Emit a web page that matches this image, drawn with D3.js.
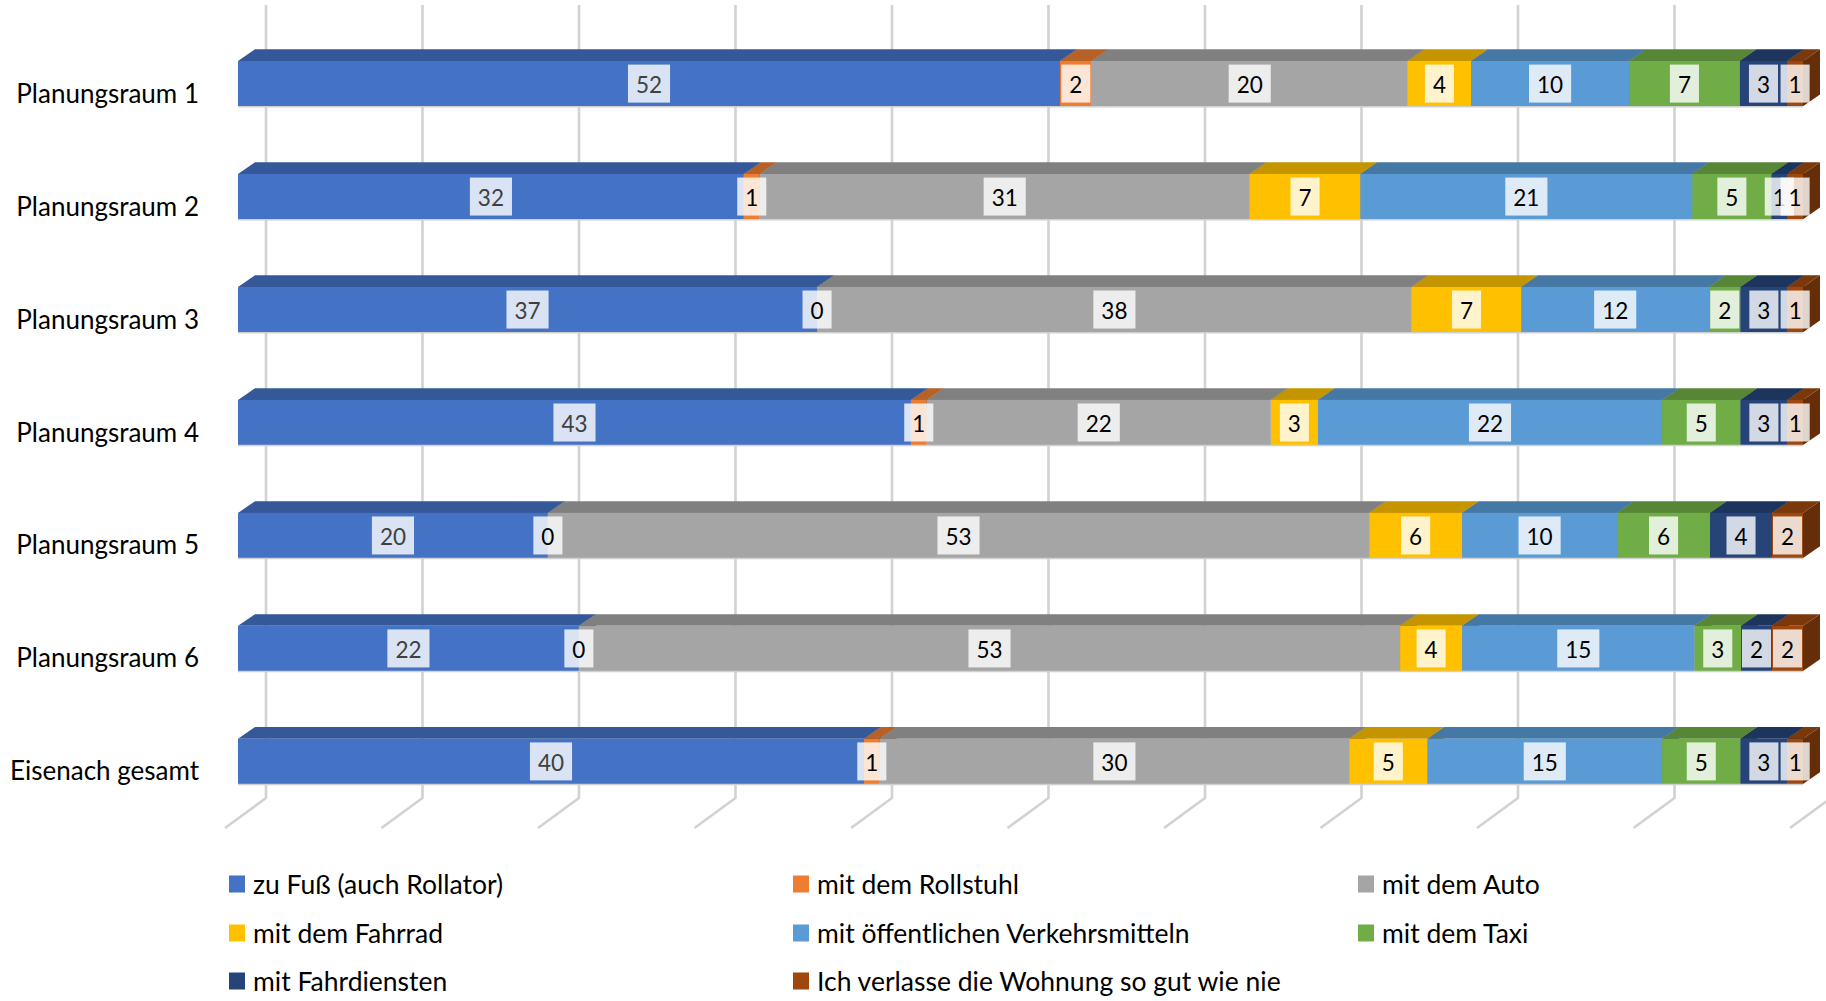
<!DOCTYPE html>
<html><head><meta charset="utf-8">
<script src="https://cdn.jsdelivr.net/npm/d3@7"></script>
<style>
body{margin:0;background:#fff}
svg{display:block}
text{font-family:Lato,"Open Sans",sans-serif}
</style>
</head><body>
<svg id="chart" width="1826" height="1001"></svg>
<script>
// ---- data ----
const categories = ["Planungsraum 1","Planungsraum 2","Planungsraum 3","Planungsraum 4","Planungsraum 5","Planungsraum 6","Eisenach gesamt"];
const seriesNames = ["zu Fuß (auch Rollator)","mit dem Rollstuhl","mit dem Auto","mit dem Fahrrad","mit öffentlichen Verkehrsmitteln","mit dem Taxi","mit Fahrdiensten","Ich verlasse die Wohnung so gut wie nie"];
const zuFuss      = [52,32,37,43,20,22,40];
const rollstuhl   = [2,1,0,1,0,0,1];
const auto        = [20,31,38,22,53,53,30];
const fahrrad     = [4,7,7,3,6,4,5];
const oepnv       = [10,21,12,22,10,15,15];
const taxi        = [7,5,2,5,6,3,5];
const fahrdienste = [3,1,3,3,4,2,3];
const nie         = [1,1,1,1,2,2,1];
const gridTicks   = [0,0.1,0.2,0.3,0.4,0.5,0.6,0.7,0.8,0.9,1];

const seriesValues = [zuFuss,rollstuhl,auto,fahrrad,oepnv,taxi,fahrdienste,nie];
const colors = ["#4472C4","#ED7D31","#A5A5A5","#FFC000","#5B9BD5","#70AD47","#264478","#9E480E"];

// ---- build table ----
const keys = seriesNames;
const table = categories.map((c,i)=>{
  const row = {category:c};
  keys.forEach((k,j)=>row[k]=seriesValues[j][i]);
  return row;
});
const stacked = d3.stack().keys(keys).offset(d3.stackOffsetExpand)(table);

const svg = d3.select("#chart");
const x = d3.scaleLinear().domain([0,1]).range([238,1803]);
const y = d3.scaleBand().domain(categories).range([61,784]).paddingInner(0.6).paddingOuter(0);
const color = d3.scaleOrdinal().domain(keys).range(colors);

const dx = 17, dy = 11.7;          // bar depth offset
const backDx = 28, frontDx = -13;  // wall/floor offsets relative to bar front

// ---- gridlines (back wall + floor) ----
svg.append("g").selectAll("path").data(gridTicks).join("path")
  .attr("d", t => `M${x(t)+backDx},5 V798 L${x(t)+frontDx},828`)
  .attr("fill","none").attr("stroke","#d2d2d2").attr("stroke-width",2.6)
  .attr("stroke-linejoin","round");

// ---- bars ----
const gBars = svg.append("g");
categories.forEach((cat,ci)=>{
  const yt = y(cat), yb = y(cat)+y.bandwidth();
  stacked.forEach((s,si)=>{
    const d = s[ci];
    const x0 = x(d[0]), x1 = x(d[1]);
    if (x1 - x0 < 0.01) return;
    const c = d3.rgb(color(s.key));
    gBars.append("path")
      .attr("d",`M${x1},${yt} L${x1+dx},${yt-dy} L${x1+dx},${yb-dy} L${x1},${yb} Z`)
      .attr("fill", c.darker(1.25));
    gBars.append("path")
      .attr("d",`M${x0},${yt} L${x0+dx},${yt-dy} L${x1+dx},${yt-dy} L${x1},${yt} Z`)
      .attr("fill", c.darker(0.72));
    gBars.append("rect")
      .attr("x",x0).attr("y",yt).attr("width",x1-x0).attr("height",yb-yt)
      .attr("fill", c);
  });
  gBars.append("line")
    .attr("x1",x(0)).attr("x2",x(1)).attr("y1",yb+0.5).attr("y2",yb+0.5)
    .attr("stroke","#d0d0d0").attr("stroke-width",1.5);
});

// ---- data labels ----
const gLab = svg.append("g");
stacked.forEach((s,si)=>{
  s.forEach((d,ci)=>{
    const val = seriesValues[si][ci];
    const cx = (x(d[0])+x(d[1]))/2;
    const cy = y(categories[ci]) + y.bandwidth()/2;
    const g = gLab.append("g");
    const t = g.append("text")
      .attr("x",cx).attr("y",cy+1)
      .attr("text-anchor","middle").attr("dominant-baseline","central")
      .attr("font-size",22.5)
      .attr("fill", si===0 ? "#404040" : "#000")
      .text(val);
    const w = t.node().getComputedTextLength() + 16;
    g.insert("rect","text")
      .attr("x",cx-w/2).attr("y",cy-19).attr("width",w).attr("height",38)
      .attr("fill","#fff").attr("fill-opacity",0.8);
  });
});

// ---- category labels ----
svg.append("g").selectAll("text").data(categories).join("text")
  .attr("x",199).attr("y",c=>y(c)+y.bandwidth()/2+9)
  .attr("text-anchor","end").attr("dominant-baseline","central")
  .attr("font-size",26).attr("fill","#000")
  .text(c=>c);

// ---- legend ----
const legCols = [229,793,1358], legRows = [884,933,981];
const leg = svg.append("g").selectAll("g").data(keys).join("g")
  .attr("transform",(k,i)=>`translate(${legCols[i%3]},${legRows[Math.floor(i/3)]})`);
leg.append("rect").attr("x",0).attr("y",-8.5).attr("width",16).attr("height",17)
  .attr("fill",k=>color(k));
leg.append("text").attr("x",24).attr("y",0).attr("dominant-baseline","central")
  .attr("font-size",26.5).attr("fill","#000").text(k=>k);
</script>
</body></html>
